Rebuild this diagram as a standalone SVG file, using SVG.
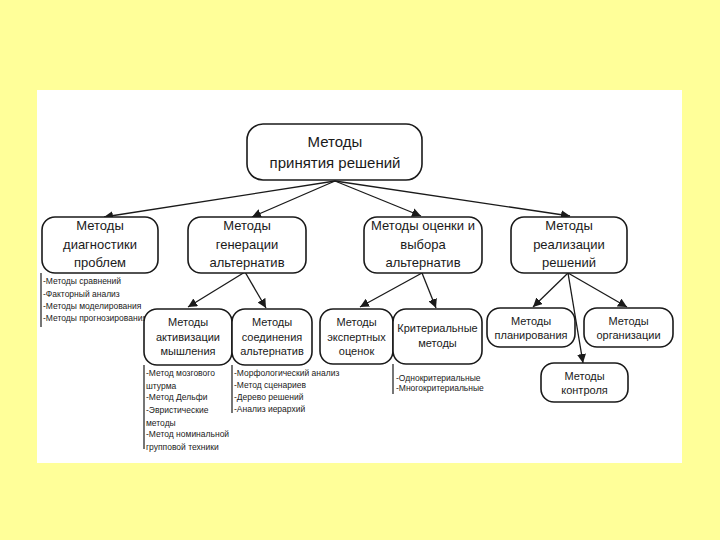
<svg xmlns="http://www.w3.org/2000/svg" width="720" height="540" viewBox="0 0 720 540">
<defs>
<marker id="ah" viewBox="0 0 10 10" refX="10" refY="5" markerWidth="9" markerHeight="9" markerUnits="userSpaceOnUse" orient="auto">
<path d="M0,0 L10,5 L0,10 z" fill="#1a1a1a"/>
</marker>
</defs>
<style>
.box{fill:#ffffff;stroke:#1a1a1a;stroke-width:1.6}
.t{font-family:"Liberation Sans",Arial,sans-serif;fill:#1a1a1a;text-anchor:middle}
.r{font-size:15px}
.l2{font-size:13px}
.l3{font-size:11px}
.li{font-family:"Liberation Sans",Arial,sans-serif;fill:#1a1a1a;font-size:8.5px}
.c{stroke:#1a1a1a;stroke-width:1.3;fill:none;marker-end:url(#ah)}
.v{stroke:#1a1a1a;stroke-width:1.2;fill:none}
</style>
<rect x="0" y="0" width="720" height="540" fill="#ffff99"/>
<rect x="37" y="90" width="645" height="373" fill="#ffffff"/>

<g id="connectors">
<line class="c" x1="335" y1="181" x2="104" y2="217"/>
<line class="c" x1="335" y1="181" x2="252" y2="217"/>
<line class="c" x1="335" y1="181" x2="421" y2="216"/>
<line class="c" x1="335" y1="181" x2="570" y2="216"/>
<line class="c" x1="245" y1="272" x2="188" y2="307"/>
<line class="c" x1="245" y1="272" x2="266" y2="308"/>
<line class="c" x1="422" y1="273" x2="360" y2="307"/>
<line class="c" x1="422" y1="273" x2="436" y2="308"/>
<line class="c" x1="568" y1="273" x2="533" y2="307"/>
<line class="c" x1="568" y1="273" x2="627" y2="307"/>
<line class="c" x1="568" y1="273" x2="583" y2="363"/>
<line class="v" x1="41" y1="273" x2="41" y2="327"/>
<line class="v" x1="144" y1="365" x2="144" y2="449"/>
<line class="v" x1="232" y1="365" x2="232" y2="413"/>
<line class="v" x1="393" y1="364" x2="393" y2="394"/>
</g>

<g id="root">
<rect class="box" x="247" y="124" width="175" height="56" rx="16"/>
<text class="t r" x="335" y="147">Методы</text>
<text class="t r" x="335" y="168">принятия решений</text>
</g>

<g id="diag">
<rect class="box" x="42" y="217" width="116" height="56" rx="13"/>
<text class="t l2" x="100" y="230">Методы</text>
<text class="t l2" x="100" y="249">диагностики</text>
<text class="t l2" x="100" y="267">проблем</text>
</g>
<g id="diag-list">
<text class="li" x="43" y="284">-Методы сравнений</text>
<text class="li" x="43" y="297">-Факторный анализ</text>
<text class="li" x="43" y="309">-Методы моделирования</text>
<text class="li" x="43" y="321">-Методы прогнозирования</text>
</g>

<g id="gen">
<rect class="box" x="188" y="217" width="118" height="56" rx="13"/>
<text class="t l2" x="247" y="230">Методы</text>
<text class="t l2" x="247" y="249">генерации</text>
<text class="t l2" x="247" y="267">альтернатив</text>
</g>

<g id="eval">
<rect class="box" x="364" y="217" width="118" height="56" rx="13"/>
<text class="t l2" x="423" y="230">Методы оценки и</text>
<text class="t l2" x="423" y="249">выбора</text>
<text class="t l2" x="423" y="267">альтернатив</text>
</g>

<g id="impl">
<rect class="box" x="511" y="217" width="116" height="56" rx="13"/>
<text class="t l2" x="569" y="230">Методы</text>
<text class="t l2" x="569" y="249">реализации</text>
<text class="t l2" x="569" y="267">решений</text>
</g>

<g id="activ">
<rect class="box" x="144" y="309" width="88" height="56" rx="13"/>
<text class="t l3" x="188" y="326">Методы</text>
<text class="t l3" x="188" y="341">активизации</text>
<text class="t l3" x="188" y="355">мышления</text>
</g>
<g id="activ-list">
<text class="li" x="146" y="376">-Метод мозгового</text>
<text class="li" x="146" y="389">штурма</text>
<text class="li" x="146" y="400">-Метод Дельфи</text>
<text class="li" x="146" y="413">-Эвристические</text>
<text class="li" x="146" y="426">методы</text>
<text class="li" x="146" y="437">-Метод номинальной</text>
<text class="li" x="146" y="450">групповой техники</text>
</g>

<g id="join">
<rect class="box" x="232" y="309" width="80" height="56" rx="13"/>
<text class="t l3" x="272" y="326">Методы</text>
<text class="t l3" x="272" y="341">соединения</text>
<text class="t l3" x="272" y="355">альтернатив</text>
</g>
<g id="join-list">
<text class="li" x="234" y="376">-Морфологический анализ</text>
<text class="li" x="234" y="388">-Метод сценариев</text>
<text class="li" x="234" y="400">-Дерево решений</text>
<text class="li" x="234" y="412">-Анализ иерархий</text>
</g>

<g id="expert">
<rect class="box" x="320" y="309" width="73" height="55" rx="13"/>
<text class="t l3" x="356.5" y="326">Методы</text>
<text class="t l3" x="356.5" y="341">экспертных</text>
<text class="t l3" x="356.5" y="355">оценок</text>
</g>

<g id="crit">
<rect class="box" x="393" y="309" width="89" height="55" rx="13"/>
<text class="t l3" x="437.5" y="332">Критериальные</text>
<text class="t l3" x="437.5" y="347">методы</text>
</g>
<g id="crit-list">
<text class="li" x="396" y="381">-Однокритериальные</text>
<text class="li" x="396" y="391">-Многокритериальные</text>
</g>

<g id="plan">
<rect class="box" x="487" y="308" width="88" height="39" rx="13"/>
<text class="t l3" x="531" y="325">Методы</text>
<text class="t l3" x="531" y="339">планирования</text>
</g>

<g id="org">
<rect class="box" x="584" y="308" width="89" height="39" rx="13"/>
<text class="t l3" x="628.5" y="325">Методы</text>
<text class="t l3" x="628.5" y="339">организации</text>
</g>

<g id="ctrl">
<rect class="box" x="541" y="363" width="87" height="39" rx="13"/>
<text class="t l3" x="584.5" y="380">Методы</text>
<text class="t l3" x="584.5" y="394">контроля</text>
</g>
</svg>
